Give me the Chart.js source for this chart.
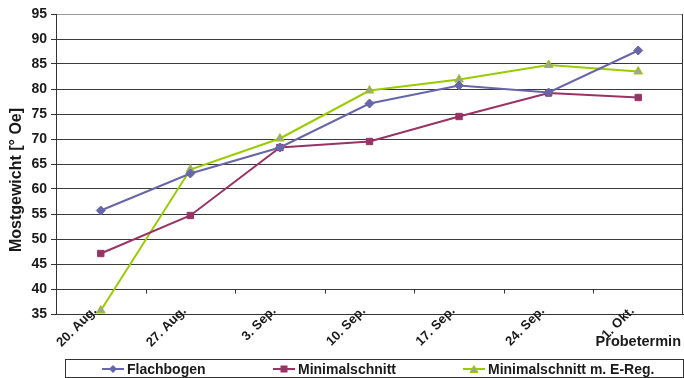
<!DOCTYPE html>
<html>
<head>
<meta charset="utf-8">
<script src="https://cdn.jsdelivr.net/npm/chart.js@4/dist/chart.umd.min.js"></script>
<style>
  html, body { margin: 0; padding: 0; background: #fff; }
  #wrap { position: relative; width: 684px; height: 378px; overflow: hidden; font-family: "Liberation Sans", Arial, sans-serif; }
  #c { position: absolute; left: 0; top: 0; }
  #xtitle { position: absolute; right: 3px; top: 333px; font-weight: bold; font-size: 14.5px; color: #1a1a1a; }
  #legend { position: absolute; left: 65px; top: 359px; width: 617px; height: 17px; border: 1px solid #333; box-sizing: content-box; }
  .item { position: absolute; top: 0; height: 17px; display: flex; align-items: center; font-weight: bold; font-size: 14px; color: #1a1a1a; white-space: nowrap; }
  .item svg { margin-right: 3px; }
</style>
</head>
<body>
<div id="wrap">
  <canvas id="c" width="684" height="378"></canvas>
  <div id="xtitle">Probetermin</div>
  <div id="legend"></div>
</div>
<script>
// Sampling dates
const termine = ['20. Aug.', '27. Aug.', '3. Sep.', '10. Sep.', '17. Sep.', '24. Sep.', '1. Okt.'];
// Must weight in degrees Oechsle per pruning system
const flachbogen = [55.7, 63.1, 68.3, 77.1, 80.7, 79.3, 87.7];
const minimalschnitt = [47.1, 54.7, 68.3, 69.5, 74.5, 79.2, 78.3];
const minimalschnittEReg = [35.7, 63.9, 70.1, 79.7, 81.9, 84.8, 83.5];
const seriesNames = ['Flachbogen', 'Minimalschnitt', 'Minimalschnitt m. E-Reg.'];
const yTitle = 'Mostgewicht [° Oe]';
// y axis range
const yMin = 35, yMax = 95, yStep = 5;

const styles = [
  { color: '#6666a8', fill: '#6666a8', point: 'rectRot', r: 4.5 },
  { color: '#993366', fill: '#993366', point: 'rect', r: 4.5 },
  { color: '#99cc00', fill: '#a0a0a0', point: 'triangle', r: 5 }
];
const values = [flachbogen, minimalschnitt, minimalschnittEReg];

// Short tick marks between categories on the 40 line, right frame line,
// slanted date labels hugging the axis line, and the y title
const frame = {
  id: 'frame',
  afterDraw(chart) {
    const { ctx, chartArea, scales } = chart;
    const x = scales.x, y = scales.y;
    const y40 = Math.round(y.getPixelForValue(40)) + 0.5;
    ctx.save();
    ctx.strokeStyle = '#333';
    ctx.lineWidth = 1;
    ctx.beginPath();
    for (let i = 1; i < termine.length; i++) {
      const px = Math.round((x.getPixelForValue(i - 1) + x.getPixelForValue(i)) / 2) + 0.5;
      ctx.moveTo(px, y40);
      ctx.lineTo(px, y40 + 4);
    }
    const rx = Math.round(chartArea.right) - 0.5;
    ctx.moveTo(rx, chartArea.top);
    ctx.lineTo(rx, chartArea.bottom);
    ctx.stroke();

    ctx.fillStyle = '#1a1a1a';
    ctx.font = 'bold 13px "Liberation Sans", Arial, sans-serif';
    ctx.textAlign = 'right';
    ctx.textBaseline = 'middle';
    termine.forEach((t, i) => {
      ctx.save();
      ctx.translate(x.getPixelForValue(i) - 6, chartArea.bottom - 5);
      ctx.rotate(-Math.PI / 4);
      ctx.fillText(t, 0, 0);
      ctx.restore();
    });

    ctx.translate(17, 180);
    ctx.rotate(-Math.PI / 2);
    ctx.font = 'bold 16px "Liberation Sans", Arial, sans-serif';
    ctx.textAlign = 'center';
    ctx.fillText(yTitle, 0, 0);
    ctx.restore();
  }
};

new Chart(document.getElementById('c'), {
  type: 'line',
  data: {
    labels: termine,
    datasets: values.map((v, i) => ({
      label: seriesNames[i],
      data: v,
      borderColor: styles[i].color,
      backgroundColor: styles[i].fill,
      pointBackgroundColor: styles[i].fill,
      pointBorderColor: styles[i].color,
      pointBorderWidth: 1,
      pointStyle: styles[i].point,
      pointRadius: styles[i].r,
      borderWidth: 2,
      tension: 0,
      clip: false
    }))
  },
  options: {
    responsive: false,
    animation: false,
    devicePixelRatio: 1,
    layout: { autoPadding: false, padding: { top: 14, right: 1, left: 0, bottom: 0 } },
    plugins: { legend: { display: false }, tooltip: { enabled: false } },
    scales: {
      x: {
        type: 'category',
        offset: true,
        grid: { display: false, drawTicks: false },
        border: { display: true, color: '#333', width: 1 },
        ticks: { display: false },
        afterFit(s) { s.height = 64; s.paddingLeft = 0; s.paddingRight = 0; }
      },
      y: {
        min: yMin, max: yMax,
        ticks: {
          stepSize: yStep,
          padding: 4,
          color: '#1a1a1a',
          font: { family: 'Liberation Sans', size: 14, weight: 'bold' }
        },
        grid: {
          color: ctx => (ctx.tick && ctx.tick.value === yMax) ? '#9a9a9a' : '#3a3a3a',
          tickColor: '#333',
          tickLength: 5,
          lineWidth: 1
        },
        border: { display: true, color: '#333', width: 1 },
        title: { display: false },
        afterFit(s) { s.width = 56; }
      }
    }
  },
  plugins: [frame]
});

// Legend entries: line with marker followed by the series name
const legendPos = [36, 207, 397];
const legend = document.getElementById('legend');
seriesNames.forEach((name, i) => {
  const st = styles[i];
  let marker = '';
  if (st.point === 'rectRot') marker = '<polygon points="11,1 15,5 11,9 7,5" fill="' + st.fill + '"/>';
  else if (st.point === 'rect') marker = '<rect x="7.5" y="1.5" width="7" height="7" fill="' + st.fill + '"/>';
  else marker = '<polygon points="11,1.5 15,8.5 7,8.5" fill="' + st.fill + '" stroke="' + st.color + '" stroke-width="1"/>';
  const el = document.createElement('div');
  el.className = 'item';
  el.style.left = legendPos[i] + 'px';
  el.innerHTML = '<svg width="22" height="10" viewBox="0 0 22 10"><line x1="0" y1="5" x2="22" y2="5" stroke="' + st.color + '" stroke-width="2"/>' + marker + '</svg><span>' + name + '</span>';
  legend.appendChild(el);
});
</script>
</body>
</html>
